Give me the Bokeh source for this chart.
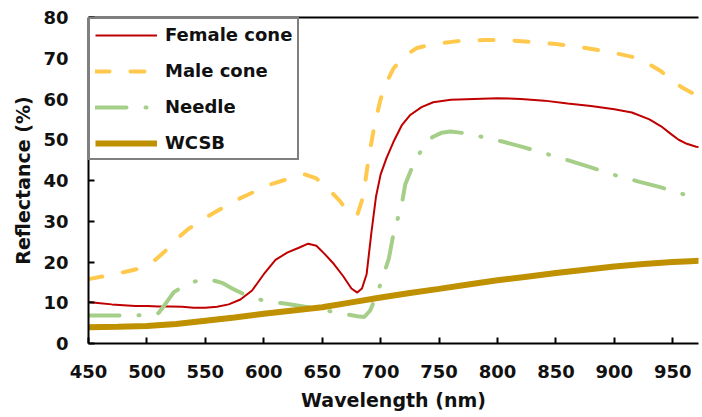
from bokeh.plotting import figure
from bokeh.models import FixedTicker, LinearAxis, Range1d, Legend, LegendItem
from bokeh.embed import file_html
from bokeh.resources import INLINE

# ---- data ----
female_x = [450, 460, 470, 480, 490, 500, 510, 520, 530, 540, 550, 560, 570, 580, 590, 600, 610, 620, 630, 638, 645, 652, 660, 668, 675, 680, 684, 688, 692, 696, 700, 705, 711, 718, 725, 735, 745, 760, 780, 800, 820, 840, 860, 880, 900, 915, 930, 940, 948, 955, 962, 970, 980]
female_y = [10.2, 9.9, 9.6, 9.4, 9.2, 9.2, 9.1, 9.1, 9.0, 8.8, 8.8, 9.0, 9.6, 10.8, 13.0, 17.0, 20.5, 22.3, 23.5, 24.5, 24.0, 22.0, 19.5, 16.5, 13.5, 12.5, 13.5, 17.0, 27.0, 36.0, 41.5, 45.5, 49.5, 53.5, 56.0, 58.0, 59.2, 59.8, 60.0, 60.2, 60.0, 59.6, 58.9, 58.3, 57.5, 56.7, 55.0, 53.3, 51.5, 50.0, 49.0, 48.3, 48.0]

male_x = [450, 465, 480, 495, 505, 515, 525, 535, 545, 560, 575, 590, 605, 620, 635, 645, 655, 665, 673, 680, 685, 690, 695, 700, 705, 711, 720, 731, 745, 766, 790, 810, 830, 850, 870, 886, 900, 916, 930, 940, 950, 958, 965, 975, 980]
male_y = [15.8, 16.6, 17.5, 18.5, 20.0, 22.5, 25.5, 28.0, 30.0, 32.5, 35.0, 37.0, 39.0, 40.3, 41.5, 40.5, 38.0, 35.0, 32.0, 31.5, 36.0, 46.0, 54.0, 60.0, 64.0, 67.5, 70.5, 72.5, 73.5, 74.2, 74.5, 74.4, 74.0, 73.5, 72.8, 72.0, 71.3, 70.3, 68.5, 66.8, 64.5, 62.8, 61.7, 60.5, 60.0]

needle_x = [450, 470, 490, 505, 510, 514, 523, 537, 553, 565, 573, 585, 600, 618, 638, 655, 668, 680, 686, 691, 696, 701, 707, 711, 718, 721, 728, 735, 744, 752, 760, 775, 788, 805, 822, 840, 860, 880, 902, 920, 940, 955, 971, 980]
needle_y = [6.9, 6.9, 6.9, 7.0, 7.5, 9.0, 12.6, 15.0, 15.8, 14.8, 13.5, 11.8, 10.5, 9.8, 8.9, 8.0, 7.3, 6.7, 6.5, 8.1, 11.5, 15.5, 20.8, 27.0, 34.0, 39.0, 44.0, 47.5, 50.6, 51.7, 52.0, 51.5, 50.6, 49.5, 48.2, 46.7, 45.0, 43.2, 41.2, 39.8, 38.3, 37.0, 35.5, 34.0]

wcsb_x = [450, 475, 500, 525, 550, 575, 600, 625, 650, 675, 700, 725, 750, 775, 800, 825, 850, 875, 900, 925, 950, 965, 980]
wcsb_y = [4.0, 4.1, 4.3, 4.8, 5.6, 6.4, 7.3, 8.1, 8.9, 10.1, 11.3, 12.4, 13.4, 14.5, 15.5, 16.4, 17.3, 18.1, 18.9, 19.5, 20.0, 20.2, 20.4]

x_ticks = [450, 500, 550, 600, 650, 700, 750, 800, 850, 900, 950]
y_ticks = [0, 10, 20, 30, 40, 50, 60, 70, 80]

FONT = "DejaVu Sans"
AX = "black"

p = figure(width=700, height=417, output_backend="svg", toolbar_location=None,
           x_range=Range1d(450, 972), y_range=Range1d(0, 80),
           min_border_left=88, min_border_right=2, min_border_top=17, min_border_bottom=74)
p.outline_line_color = None
p.grid.grid_line_color = None
p.background_fill_color = "white"

r1 = p.line(female_x, female_y, line_color="#C00000", line_width=2)
r2 = p.line(male_x, male_y, line_color="#FFC94D", line_width=4, line_dash="14 21", line_cap="round")
r3 = p.line(needle_x, needle_y, line_color="#A5CF88", line_width=4, line_dash="31 19 1 19", line_cap="round")
r4 = p.line(wcsb_x, wcsb_y, line_color="#BF9000", line_width=6)

for ax in (p.xaxis[0], p.yaxis[0]):
    ax.axis_line_color = AX
    ax.axis_line_width = 2
    ax.major_tick_line_color = AX
    ax.major_tick_line_width = 2
    ax.major_tick_in = 6
    ax.major_tick_out = 0
    ax.minor_tick_line_color = None
    ax.major_label_text_font = FONT
    ax.major_label_text_font_style = "bold"
    ax.major_label_text_font_size = "18px"
    ax.major_label_text_color = "#111111"
    ax.axis_label_text_font = FONT
    ax.axis_label_text_font_style = "bold"
    ax.axis_label_text_font_size = "19px"
    ax.axis_label_text_color = "#111111"

p.xaxis[0].ticker = FixedTicker(ticks=x_ticks)
p.yaxis[0].ticker = FixedTicker(ticks=y_ticks)
p.xaxis[0].axis_label = "Wavelength (nm)"
p.yaxis[0].axis_label = "Reflectance (%)"
p.xaxis[0].major_label_standoff = 21
p.xaxis[0].axis_label_standoff = 8
p.yaxis[0].major_label_standoff = 20
p.yaxis[0].axis_label_standoff = 6

top = LinearAxis(ticker=FixedTicker(ticks=[]), axis_line_color=AX, axis_line_width=2,
                 major_tick_in=0, major_tick_out=0, minor_tick_in=0, minor_tick_out=0,
                 major_label_standoff=0, major_label_text_font_size="0px")
p.add_layout(top, "above")

legend = Legend(items=[
    LegendItem(label="Female cone", renderers=[r1]),
    LegendItem(label="Male cone", renderers=[r2]),
    LegendItem(label="Needle", renderers=[r3]),
    LegendItem(label="WCSB", renderers=[r4]),
], location="top_left")
legend.margin = 0
legend.padding = 5
legend.spacing = 15
legend.glyph_width = 62
legend.glyph_height = 20
legend.label_height = 20
legend.label_standoff = 8
legend.label_text_font = FONT
legend.label_text_font_style = "bold"
legend.label_text_font_size = "18px"
legend.label_text_color = "#111111"
legend.border_line_color = AX
legend.border_line_width = 2
legend.background_fill_color = "white"
legend.background_fill_alpha = 1
p.add_layout(legend, "center")

open("out.html", "w").write(file_html(p, INLINE))
